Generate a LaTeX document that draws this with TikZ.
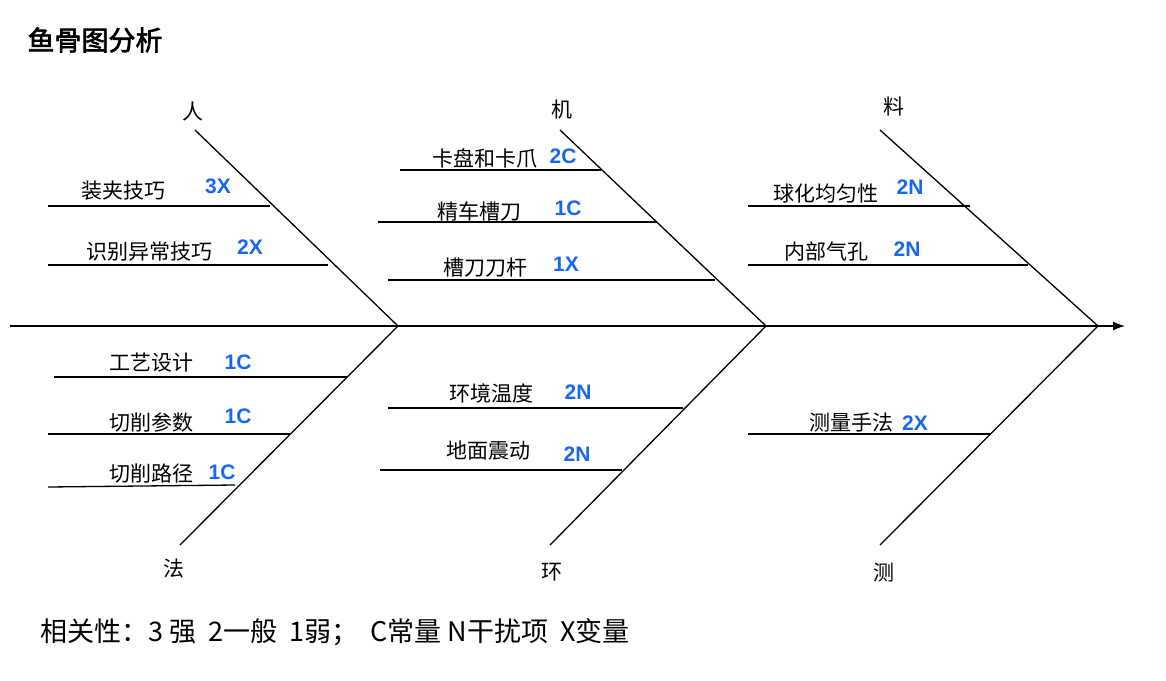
\documentclass[tikz,border=0pt]{standalone}
\usepackage{fontspec}
\usetikzlibrary{arrows.meta}
\setmainfont{Noto Sans CJK SC}[AutoFakeBold=2.5]
\newfontfamily\lat{Liberation Sans}
\begin{document}
\begin{tikzpicture}[x=1pt,y=-1pt,
  lab/.style={font=\fontsize{21}{23}\selectfont,inner sep=0pt},
  cat/.style={font=\fontsize{21}{23}\selectfont,inner sep=0pt},
  ln/.style={line width=1.3pt}]
\definecolor{bl}{HTML}{1668F0}
\tikzset{sc/.style={font=\lat\bfseries\fontsize{21}{23}\selectfont,text=bl,inner sep=0pt}}
\useasboundingbox (0,0) rectangle (1166,680);
\node[font=\bfseries\fontsize{27}{29}\selectfont,anchor=west] (title) at (24,40) {鱼骨图分析};
% spine
\coordinate (s0) at (10,326); \coordinate (s1) at (1125,326);
\coordinate (j1) at (398,326); \coordinate (j2) at (766,326); \coordinate (j3) at (1098,326);
\draw[ln,-{Latex[length=12pt,width=9pt]}] (s0) -- (s1);
% bones
\coordinate (b1) at (195,130); \coordinate (b2) at (180,545);
\coordinate (b3) at (560,130); \coordinate (b4) at (550,545);
\coordinate (b5) at (880,130); \coordinate (b6) at (880,545);
\foreach \a/\b in {b1/j1,b2/j1,b3/j2,b4/j2,b5/j3,b6/j3} \draw[ln] (\a) -- (\b);
\node[cat] (ren) at (193,112) {人};
\node[cat] (fa) at (174,569) {法};
\node[cat] (ji) at (562,110) {机};
\node[cat] (huan) at (552,572) {环};
\node[cat] (liao) at (894,107) {料};
\node[cat] (ce) at (884,573) {测};
% branches
\foreach \xa/\xb/\y/\nm in {48/270/206/r1,48/328/265/r2,400/601/170/m1,378/657/222/m2,388/715/280/m3,748/970/206/l1,748/1028/265/l2,54/347/377/f1,48/290/434/f2,388/683/408/h1,380/622/470/h2,748/990/434/c1}
  {\coordinate (\nm a) at (\xa,\y); \coordinate (\nm b) at (\xb,\y); \draw[ln] (\nm a) -- (\nm b);}
\coordinate (f3a) at (48,487); \coordinate (f3b) at (235,485); \draw[ln] (f3a) -- (f3b);
% labels
\node[lab] (t1) at (123,191) {装夹技巧}; \node[sc] (n1) at (218,186) {3X};
\node[lab] (t2) at (149,252) {识别异常技巧}; \node[sc] (n2) at (250,247) {2X};
\node[lab] (t3) at (485,158) {卡盘和卡爪}; \node[sc] (n3) at (563,156) {2C};
\node[lab] (t4) at (479,212) {精车槽刀}; \node[sc] (n4) at (568,208) {1C};
\node[lab] (t5) at (485,268) {槽刀刀杆}; \node[sc] (n5) at (566,264) {1X};
\node[lab] (t6) at (826,194) {球化均匀性}; \node[sc] (n6) at (910,187) {2N};
\node[lab] (t7) at (826,251) {内部气孔}; \node[sc] (n7) at (907,249) {2N};
\node[lab] (t8) at (151,363) {工艺设计}; \node[sc] (n8) at (238,362) {1C};
\node[lab] (t9) at (151,422) {切削参数}; \node[sc] (n9) at (238,416) {1C};
\node[lab] (t10) at (151,474) {切削路径}; \node[sc] (n10) at (222,472) {1C};
\node[lab] (t11) at (491,393) {环境温度}; \node[sc] (n11) at (578,392) {2N};
\node[lab] (t12) at (488,451) {地面震动}; \node[sc] (n12) at (577,454) {2N};
\node[lab] (t13) at (851,423) {测量手法}; \node[sc] (n13) at (915,423) {2X};
\node[font=\fontsize{27}{29}\selectfont,anchor=west,inner sep=0pt] (leg) at (40,632) {相关性：3 强\ \ 2一般\ \ 1弱；\ \ C常量 N干扰项\ \ X变量};
\end{tikzpicture}
\end{document}
